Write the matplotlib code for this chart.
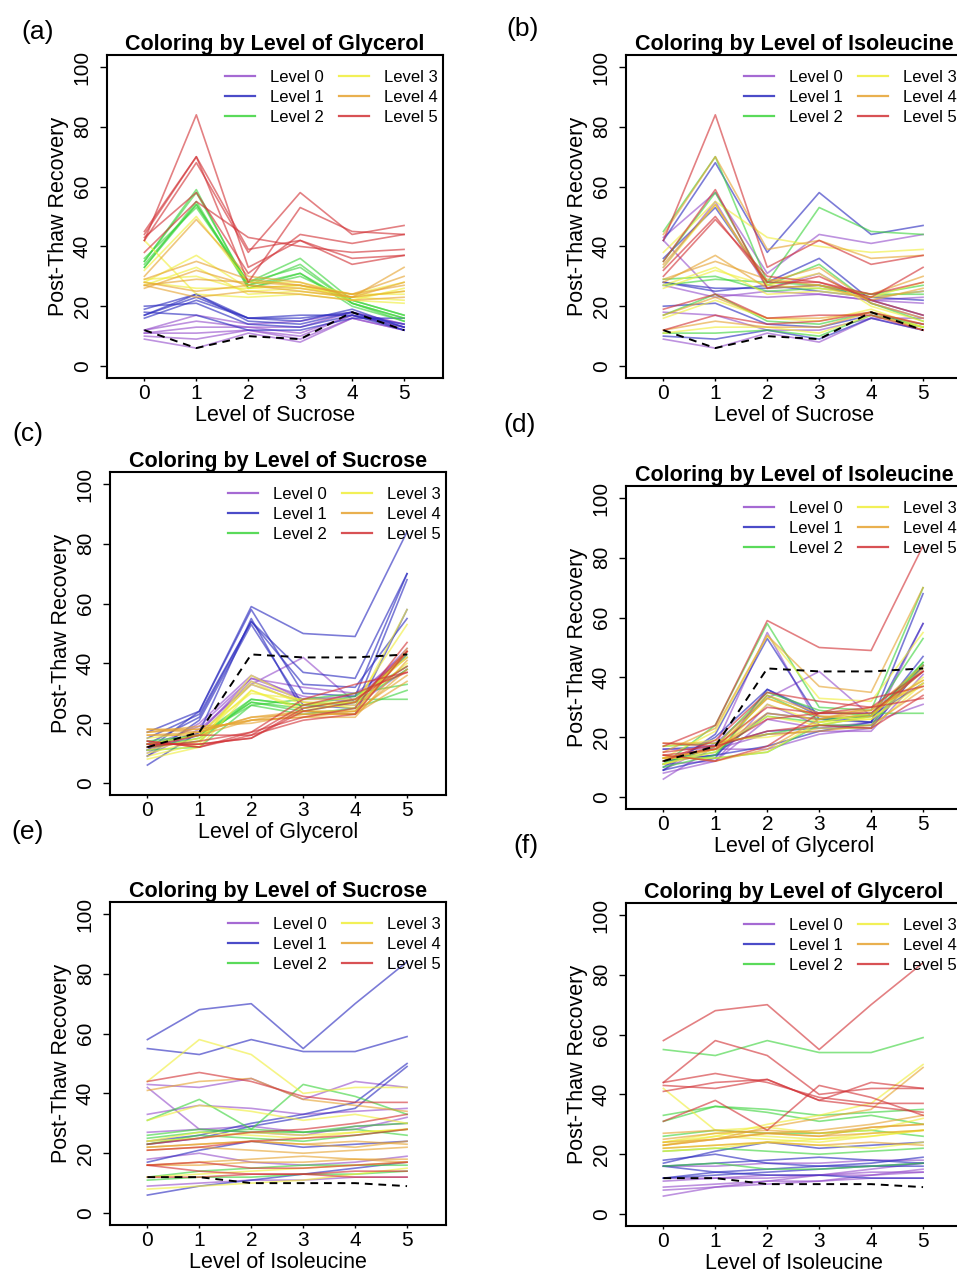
import numpy as np
import matplotlib
matplotlib.use("Agg")
from matplotlib import pyplot as plt
from matplotlib.lines import Line2D

plt.rcParams['font.family'] = ['Liberation Sans', 'DejaVu Sans']

levels = [0, 1, 2, 3, 4, 5]
level_labels = ['Level 0', 'Level 1', 'Level 2', 'Level 3', 'Level 4', 'Level 5']
level_colors = ['#9650cc', '#2b2bbf', '#3dd43d', '#f0ee3a', '#e6a330', '#d23236']
factor_names = ['Sucrose', 'Glycerol', 'Isoleucine']

# post-thaw recovery per sucrose level
# rows = glycerol level 0..5, columns = isoleucine level 0..5
sucrose0 = [[9, 10, 11, 11, 12, 12],
            [18, 20, 17, 16, 17, 19],
            [33, 36, 35, 33, 34, 35],
            [42, 28, 29, 27, 28, 32],
            [27, 28, 27, 26, 29, 30],
            [43, 42, 45, 38, 44, 42]]
sucrose1 = [[6, 9, 11, 13, 15, 17],
            [17, 21, 24, 22, 23, 24],
            [55, 53, 58, 54, 54, 59],
            [24, 26, 30, 33, 37, 50],
            [23, 25, 29, 32, 35, 49],
            [58, 68, 70, 55, 70, 84]]
sucrose2 = [[11, 12, 12, 13, 13, 14],
            [12, 14, 15, 16, 16, 16],
            [26, 28, 27, 27, 28, 26],
            [23, 26, 25, 24, 26, 28],
            [25, 27, 28, 27, 29, 30],
            [31, 38, 28, 43, 39, 33]]
sucrose3 = [[8, 9, 10, 11, 13, 15],
            [12, 13, 14, 15, 16, 17],
            [31, 36, 34, 31, 33, 30],
            [24, 27, 26, 25, 27, 28],
            [24, 25, 27, 26, 27, 28],
            [44, 58, 53, 40, 42, 42]]
sucrose4 = [[16, 16, 17, 17, 18, 18],
            [16, 17, 18, 19, 18, 17],
            [21, 22, 21, 20, 21, 22],
            [22, 23, 24, 23, 22, 24],
            [22, 23, 24, 23, 24, 23],
            [41, 44, 45, 38, 36, 34]]
sucrose5 = [[12, 12, 13, 13, 14, 14],
            [16, 14, 13, 13, 12, 12],
            [16, 17, 15, 15, 16, 17],
            [21, 22, 24, 25, 26, 28],
            [23, 25, 27, 28, 30, 33],
            [44, 47, 44, 39, 37, 37]]

# black dashed reference line along each factor
dashed_sucrose = [12, 6, 10, 9, 18, 12]
dashed_glycerol = [12, 17, 43, 42, 42, 43]
dashed_isoleucine = [12, 12, 10, 10, 10, 9]

cube = np.array([sucrose0, sucrose1, sucrose2, sucrose3, sucrose4, sucrose5], dtype=float)
dashed = [dashed_sucrose, dashed_glycerol, dashed_isoleucine]

W, H = 957, 1272
fig = plt.figure(figsize=(W / 100, H / 100), dpi=100)

# (tag, x factor, colour factor, box left px, box top px, tag x, tag y)
panels = [
    ('(a)', 0, 1, 107, 55, 38, 32),
    ('(b)', 0, 2, 626, 55, 523, 29),
    ('(c)', 1, 0, 110, 472, 28, 434),
    ('(d)', 1, 2, 626, 486, 520, 425),
    ('(e)', 2, 0, 110, 902, 28, 832),
    ('(f)', 2, 1, 626, 903, 526, 846),
]
box_w, box_h = 336, 323

for tag, xf, cf, left, top, tx, ty in panels:
    ax = fig.add_axes([left / W, 1 - (top + box_h) / H, box_w / W, box_h / H])
    other = 3 - xf - cf
    view = np.transpose(cube, (cf, other, xf))
    for c in range(6):
        for o in range(6):
            ax.plot(levels, view[c, o], color=level_colors[c], alpha=0.62, lw=1.2)
    ax.plot(levels, dashed[xf], color='black', ls=(0, (4, 3)), lw=1.4)

    ax.set_xlim(-0.72, 5.75)
    ax.set_ylim(-4, 104)
    ax.set_xticks(levels)
    ax.set_yticks([0, 20, 40, 60, 80, 100])
    ax.tick_params(axis='x', labelsize=15, length=2, width=1, pad=2)
    ax.tick_params(axis='y', labelsize=15, length=5, width=1, pad=6, labelrotation=90)
    for lab in ax.get_yticklabels():
        lab.set_va('center')
    for sp in ax.spines.values():
        sp.set_linewidth(1.5)

    ax.set_title('Coloring by Level of ' + factor_names[cf], fontsize=15.5,
                 fontweight='bold', pad=3.5)
    ax.set_xlabel('Level of ' + factor_names[xf], fontsize=15.5)
    ax.xaxis.set_label_coords(0.5, -27 / box_h)
    ax.set_ylabel('Post-Thaw Recovery', fontsize=15.5)
    ax.yaxis.set_label_coords(-38 / box_w, 0.5)

    handles = [Line2D([], [], color=col, lw=1.6, alpha=0.85) for col in level_colors]
    fig.legend(handles, level_labels, ncol=2, loc='upper left', frameon=False,
               bbox_to_anchor=((left + 118) / W, 1 - (top + 15) / H),
               bbox_transform=fig.transFigure, fontsize=12, borderpad=0,
               borderaxespad=0, handlelength=1.8, handletextpad=0.9,
               columnspacing=0.9, labelspacing=0.3)

    fig.text(tx / W, 1 - ty / H, tag, ha='center', va='center', fontsize=19)

fig.savefig('out.png', dpi=100)
